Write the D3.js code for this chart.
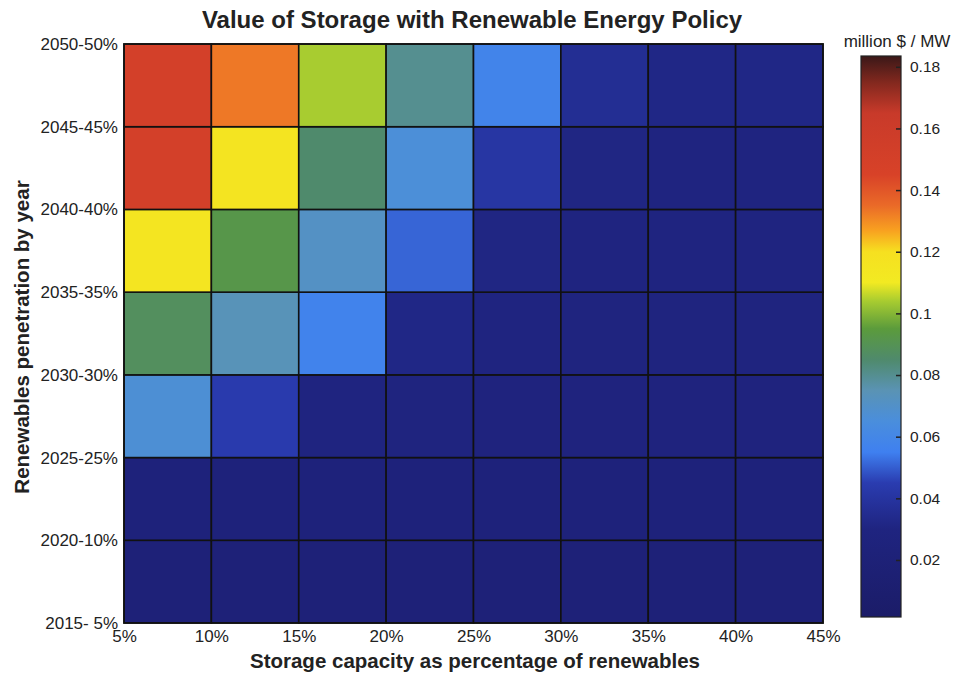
<!DOCTYPE html>
<html>
<head>
    <title>Value of Storage with Renewable Energy Policy</title>
    <script src="https://d3js.org/d3.v7.min.js"></script>
    <style>
        body { margin:0; background:#fff; }
        text { font-family: "Liberation Sans", Arial, sans-serif; fill:#222; }
        .title { font-size:24px; font-weight:bold; }
        .axtitle { font-size:20.5px; font-weight:bold; }
        .cell { stroke:#111; stroke-width:1.6; }
    </style>
</head>
<body>
<script>
// storage capacity (column edges) and renewables penetration (row edges)
var storageTicks = ["5%","10%","15%","20%","25%","30%","35%","40%","45%"];
var yearTicks = ["2015- 5%","2020-10%","2025-25%","2030-30%","2035-35%","2040-40%","2045-45%","2050-50%"];

// value of storage, million $ / MW ; rows from 2015 (bottom) to 2050 (top)
var row2015 = [0.020,0.020,0.020,0.020,0.020,0.020,0.020,0.020];
var row2020 = [0.024,0.024,0.024,0.024,0.024,0.024,0.024,0.024];
var row2025 = [0.067,0.044,0.030,0.029,0.028,0.028,0.028,0.028];
var row2030 = [0.088,0.074,0.057,0.032,0.030,0.029,0.029,0.029];
var row2035 = [0.115,0.092,0.071,0.051,0.031,0.030,0.030,0.030];
var row2040 = [0.151,0.116,0.085,0.066,0.041,0.031,0.030,0.030];
var row2045 = [0.151,0.133,0.104,0.080,0.058,0.036,0.032,0.032];
var values = [row2015,row2020,row2025,row2030,row2035,row2040,row2045];

var cbTicks = [0.02,0.04,0.06,0.08,0.1,0.12,0.14,0.16,0.18];
var cbDomain = [0.0015, 0.1835];

// colormap stops
var cmapValues = [0.0015,0.03,0.045,0.055,0.065,0.075,0.085,0.095,0.104,0.11,0.12,0.127,0.135,0.145,0.165,0.175,0.1835];
var cmapColors = ["#1b1c68","#1f2480","#2a3cb0","#3f80f0","#4a8edc","#5a93b4","#4f8a6c","#5b9b3c","#a8cc30","#f2ea22","#f6e020","#f8a020","#ea6a28","#d84228","#c83a2a","#82281e","#3a1818"];

var color = d3.scaleLinear().domain(cmapValues).range(cmapColors).clamp(true);

var svg = d3.select("body").append("svg").attr("width",958).attr("height",677);

var plotLeft = 124, plotTop = 44, plotW = 699, plotH = 579;

var x = d3.scaleLinear().domain([0,8]).range([plotLeft,plotLeft+plotW]);
var y = d3.scaleLinear().domain([0,7]).range([plotTop+plotH,plotTop]);

// cells
var cells = [];
values.forEach(function(row,i){
    row.forEach(function(v,j){ cells.push({r:i,c:j,v:v}); });
});
svg.append("g").selectAll("rect").data(cells).enter().append("rect")
    .attr("class","cell")
    .attr("x",function(d){return x(d.c);})
    .attr("y",function(d){return y(d.r+1);})
    .attr("width",function(d){return x(d.c+1)-x(d.c);})
    .attr("height",function(d){return y(d.r)-y(d.r+1);})
    .attr("fill",function(d){return color(d.v);});

svg.append("rect").attr("x",plotLeft).attr("y",plotTop).attr("width",plotW).attr("height",plotH)
    .attr("fill","none").attr("stroke","#111").attr("stroke-width",1.6);

// axes
var xAxis = d3.axisBottom(x).tickValues(d3.range(9)).tickSize(0).tickPadding(7)
    .tickFormat(function(d){return storageTicks[d];});
svg.append("g").attr("transform","translate(0,"+(plotTop+plotH)+")").call(xAxis)
    .call(function(g){g.select(".domain").remove();});

var yAxis = d3.axisLeft(y).tickValues(d3.range(8)).tickSize(0).tickPadding(6)
    .tickFormat(function(d){return yearTicks[d];});
svg.append("g").attr("transform","translate("+plotLeft+",0)").call(yAxis)
    .call(function(g){g.select(".domain").remove();});

svg.selectAll(".tick text").attr("fill","#222")
    .style("font-family","'Liberation Sans', Arial, sans-serif").style("font-size","17px");

// titles
svg.append("text").attr("class","title").attr("x",472).attr("y",28).attr("text-anchor","middle")
    .text("Value of Storage with Renewable Energy Policy");
svg.append("text").attr("class","axtitle").attr("x",475).attr("y",668).attr("text-anchor","middle")
    .text("Storage capacity as percentage of renewables");
svg.append("text").attr("class","axtitle").attr("transform","translate(29,337) rotate(-90)")
    .attr("text-anchor","middle").text("Renewables penetration by year");

// colour bar
var cbX = 861, cbW = 40, cbTop = 56, cbBottom = 617;
var cy = d3.scaleLinear().domain(cbDomain).range([cbBottom,cbTop]);
var defs = svg.append("defs");
var grad = defs.append("linearGradient").attr("id","cbgrad")
    .attr("x1",0).attr("y1",1).attr("x2",0).attr("y2",0);
cmapValues.forEach(function(v,i){
    grad.append("stop").attr("offset",(v-cbDomain[0])/(cbDomain[1]-cbDomain[0]))
        .attr("stop-color",cmapColors[i]);
});
svg.append("rect").attr("x",cbX).attr("y",cbTop).attr("width",cbW).attr("height",cbBottom-cbTop)
    .attr("fill","url(#cbgrad)").attr("stroke","#222").attr("stroke-width",1.2);

var cbAxis = d3.axisRight(cy).tickValues(cbTicks).tickSize(-5).tickPadding(9)
    .tickFormat(function(d){return d3.format("")(+d.toFixed(2));});
svg.append("g").attr("transform","translate("+(cbX+cbW)+",0)").call(cbAxis)
    .call(function(g){g.select(".domain").remove();})
    .call(function(g){g.selectAll(".tick line").attr("stroke","#222").attr("stroke-width",1.5);})
    .call(function(g){g.selectAll(".tick text").attr("fill","#222").style("font-size","15.5px");});

svg.append("text").attr("x",897).attr("y",47).attr("text-anchor","middle")
    .style("font-size","17px").text("million $ / MW");
</script>
</body>
</html>
